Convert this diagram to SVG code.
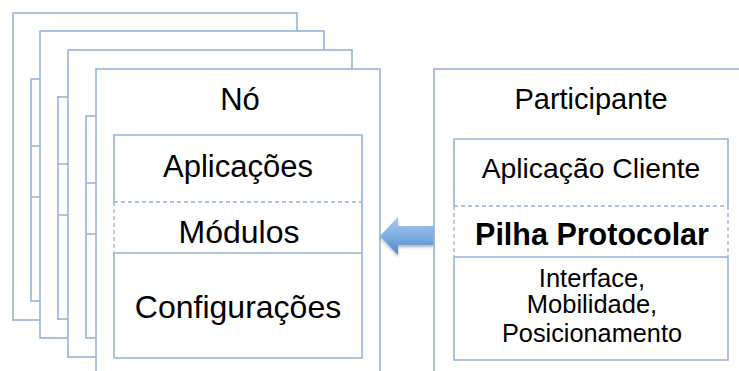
<svg xmlns="http://www.w3.org/2000/svg" width="739" height="371" viewBox="0 0 739 371">
  <defs>
    <style>
      .frame { fill: #ffffff; stroke: #95B3D7; stroke-width: 1.6; }
      .line { fill: none; stroke: #95B3D7; stroke-width: 1.6; }
      .dash { fill: none; stroke: #95B3D7; stroke-width: 1.3; stroke-dasharray: 4 3; }
      .t { font-family: "Liberation Sans", Arial, sans-serif; fill: #000000; text-anchor: middle; }
      .b { font-weight: bold; }
    </style>
    <linearGradient id="arrowFill" x1="0" y1="0" x2="0" y2="1">
      <stop offset="0" stop-color="#A9CBEE"/>
      <stop offset="0.5" stop-color="#7EAEE2"/>
      <stop offset="1" stop-color="#4F86C8"/>
    </linearGradient>
    <filter id="soft" x="-20%" y="-20%" width="140%" height="160%">
      <feDropShadow dx="0" dy="2" stdDeviation="1.5" flood-color="#000000" flood-opacity="0.3"/>
    </filter>
    <!-- one stacked copy of a node: outer frame plus its three-part inner box -->
    <g id="layer">
      <rect class="frame" x="0" y="0" width="284" height="307"/>
      <rect class="frame" x="18" y="66" width="248" height="222"/>
      <line class="line" x1="18" y1="133" x2="266" y2="133"/>
      <line class="line" x1="18" y1="184" x2="266" y2="184"/>
    </g>
  </defs>

  <!-- copies of the node stacked behind the front one -->
  <g id="node-stack">
    <use href="#layer" x="13" y="13"/>
    <use href="#layer" x="40" y="31"/>
    <use href="#layer" x="68" y="50"/>
  </g>

  <!-- front node -->
  <g id="node-no">
    <rect class="frame" x="96" y="69" width="284" height="330"/>
    <rect x="114" y="135" width="248" height="223" fill="#ffffff"/>
    <path class="line" d="M114 202 V135 H362 V358 H114 V253 M114 253 H362"/>
    <path class="dash" d="M114 202 H362 M114 202 V253"/>
    <text class="t" x="240" y="110" font-size="31">Nó</text>
    <text class="t" x="238" y="177" font-size="31">Aplicações</text>
    <text class="t" x="239" y="243" font-size="32">Módulos</text>
    <text class="t" x="238" y="318" font-size="32">Configurações</text>
  </g>

  <!-- participant node -->
  <g id="node-participante">
    <rect class="frame" x="434" y="69" width="330" height="330"/>
    <rect x="454" y="139" width="274" height="221" fill="#ffffff"/>
    <path class="line" d="M454 206 V139 H728 V206 M454 257 V360 H728 V257 M454 257 H728"/>
    <path class="dash" d="M454 206 H728 M454 206 V257 M728 206 V257"/>
    <text class="t" x="591" y="109" font-size="29">Participante</text>
    <text class="t" x="591" y="178" font-size="28.3">Aplicação Cliente</text>
    <text class="t b" x="592" y="245" font-size="30.5">Pilha Protocolar</text>
    <text class="t" x="592" y="287" font-size="25.5">Interface,</text>
    <text class="t" x="592" y="313" font-size="25.5">Mobilidade,</text>
    <text class="t" x="592" y="342" font-size="25.3">Posicionamento</text>
  </g>

  <!-- connectors -->
  <g id="connectors">
    <polygon points="380,236 398,217 398,226 433,226 433,245 398,245 398,255" fill="url(#arrowFill)" filter="url(#soft)"/>
  </g>
</svg>
